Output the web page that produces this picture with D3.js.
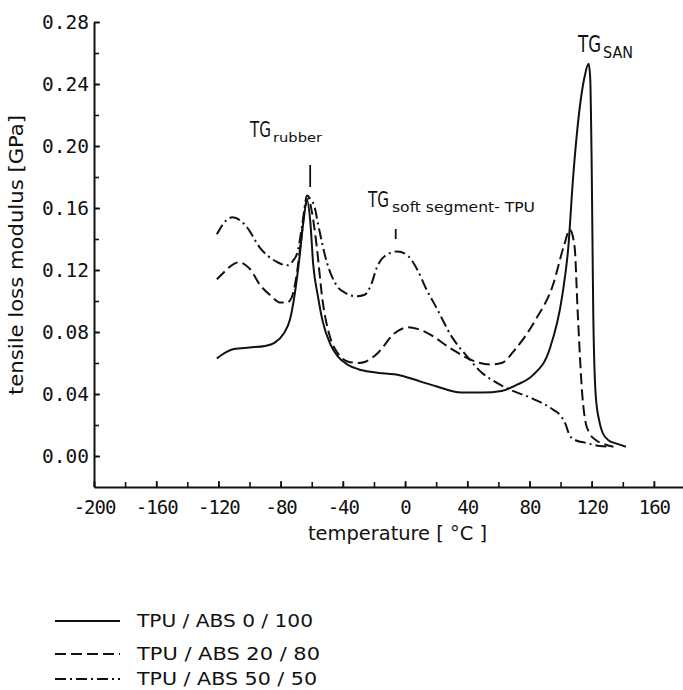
<!DOCTYPE html>
<html><head><meta charset="utf-8">
<script src="https://cdn.jsdelivr.net/npm/d3@7"></script>
<style>body{margin:0;background:#fff}svg{display:block}</style>
</head><body><svg id="chart" width="683" height="690"></svg>
<script>
// ---- data (temperature °C, tensile loss modulus GPa) ----
const seriesLabels = ["TPU / ABS 0 / 100", "TPU / ABS 20 / 80", "TPU / ABS 50 / 50"];

const tpuAbs0_100 = [
  [-121,0.063],[-115,0.067],[-110,0.069],[-100,0.070],[-90,0.071],[-84,0.073],[-78,0.079],
  [-74,0.088],[-71,0.104],[-68,0.127],[-65.5,0.150],[-63,0.165],[-61,0.152],[-59,0.123],
  [-56,0.103],[-53,0.087],[-48,0.072],[-43,0.064],[-37,0.059],[-30,0.056],[-20,0.054],
  [-3,0.052],[10,0.048],[20,0.045],[36,0.041],[50,0.041],[62,0.042],[72,0.046],[82,0.052],
  [93,0.069],[101,0.103],[105,0.135],[108,0.179],[113,0.230],[115.5,0.245],[118,0.253],
  [119,0.245],[120,0.187],[120.5,0.140],[121,0.093],[122.6,0.039],[125,0.022],[127,0.015],
  [131,0.010],[136,0.008],[142,0.006]
];
const tpuAbs20_80 = [
  [-121,0.114],[-115,0.120],[-110,0.124],[-107,0.125],[-100,0.121],[-93,0.110],[-87,0.104],
  [-80,0.099],[-76,0.099],[-73,0.102],[-70,0.115],[-67,0.138],[-64,0.162],[-62,0.166],
  [-60,0.158],[-57,0.137],[-53,0.100],[-48,0.076],[-43,0.066],[-37,0.061],[-30,0.060],
  [-25,0.061],[-17,0.067],[-7,0.079],[2,0.083],[8,0.082],[15,0.079],[30,0.069],[45,0.061],
  [55,0.059],[62,0.060],[71,0.069],[84,0.088],[95,0.110],[102,0.135],[106,0.146],[109,0.135],
  [111,0.093],[114,0.039],[116,0.022],[118.5,0.015],[123,0.010],[127,0.008],[134,0.006]
];
const tpuAbs50_50 = [
  [-121,0.143],[-115,0.152],[-111,0.154],[-106,0.152],[-102,0.148],[-93,0.134],[-82,0.125],
  [-76,0.123],[-72,0.126],[-69,0.132],[-66,0.150],[-63,0.168],[-61,0.166],[-58,0.160],
  [-56,0.150],[-50,0.124],[-44,0.110],[-38,0.105],[-31,0.103],[-26,0.104],[-22,0.110],
  [-18,0.122],[-13,0.129],[-5,0.132],[2,0.129],[8,0.120],[14,0.107],[20,0.096],[30,0.077],
  [41,0.063],[49,0.054],[56,0.049],[67,0.043],[82,0.037],[95,0.030],[100,0.026],[103,0.021],
  [106,0.013],[110,0.010],[114,0.009],[125,0.0065],[132,0.006]
];

const xTickLabels = [-200,-160,-120,-80,-40,0,40,80,120,160];
const xMinorTicks = d3.range(-200, 181, 20);
const yTickLabels = [0.00,0.04,0.08,0.12,0.16,0.20,0.24,0.28];
const yMinorTicks = d3.range(0, 0.2801, 0.02);

const annotationMain = ["TG", "TG", "TG"];
const annotationSub = ["rubber", "soft segment- TPU", "SAN"];

// ---- drawing ----
const svg = d3.select("#chart");
const x = d3.scaleLinear().domain([-200, 180]).range([94, 685]);
const y = d3.scaleLinear().domain([-0.02, 0.28]).range([487, 22]);

const INK = "#111";
const monoFont = "'DejaVu Sans Mono', monospace";
const sansFont = "'DejaVu Sans Condensed', 'DejaVu Sans', sans-serif";

// minor ticks + axis lines
svg.append("g").attr("transform", `translate(0,${y(-0.02)})`)
  .call(d3.axisBottom(x).tickValues(xMinorTicks).tickSizeInner(-5).tickSizeOuter(0).tickFormat(""))
  .call(g => g.selectAll("line").attr("stroke", INK).attr("stroke-width", 1.6))
  .call(g => g.select(".domain").attr("stroke", INK).attr("stroke-width", 2));
svg.append("g").attr("transform", `translate(${x(-200)},0)`)
  .call(d3.axisLeft(y).tickValues(yMinorTicks).tickSizeInner(-5).tickSizeOuter(0).tickFormat(""))
  .call(g => g.selectAll("line").attr("stroke", INK).attr("stroke-width", 1.6))
  .call(g => g.select(".domain").attr("stroke", INK).attr("stroke-width", 2));

// labelled ticks
svg.append("g").attr("transform", `translate(0,${y(-0.02)})`)
  .call(d3.axisBottom(x).tickValues(xTickLabels).tickSizeInner(-6).tickSizeOuter(0)
        .tickPadding(14).tickFormat(d => String(d)))
  .call(g => g.select(".domain").remove())
  .call(g => g.selectAll("line").attr("stroke", INK).attr("stroke-width", 1.6))
  .call(g => g.selectAll("text").attr("fill", INK).style("font-family", monoFont)
        .style("font-size", "19px").style("letter-spacing", "-1px"));
svg.append("g").attr("transform", `translate(${x(-200)},0)`)
  .call(d3.axisLeft(y).tickValues(yTickLabels).tickSizeInner(-6).tickSizeOuter(0)
        .tickPadding(5).tickFormat(d3.format(".2f")))
  .call(g => g.select(".domain").remove())
  .call(g => g.selectAll("line").attr("stroke", INK).attr("stroke-width", 1.6))
  .call(g => g.selectAll("text").attr("fill", INK).style("font-family", monoFont)
        .style("font-size", "19.5px"));

// axis titles
svg.append("text").attr("x", 308).attr("y", 540).attr("fill", INK)
  .style("font-family", sansFont).style("font-size", "19px")
  .attr("textLength", 179).attr("lengthAdjust", "spacingAndGlyphs")
  .text("temperature [ °C ]");
svg.append("text").attr("transform", "translate(23,395) rotate(-90)").attr("fill", INK)
  .style("font-family", sansFont).style("font-size", "19px")
  .attr("textLength", 280).attr("lengthAdjust", "spacingAndGlyphs")
  .text("tensile loss modulus [GPa]");

// curves
const series = [
  {data: tpuAbs0_100, dash: null},
  {data: tpuAbs20_80, dash: "11,5"},
  {data: tpuAbs50_50, dash: "11,4,2,4"}
];
const line = d3.line().x(d => x(d[0])).y(d => y(d[1])).curve(d3.curveMonotoneX);
svg.append("g").selectAll("path").data(series).join("path")
  .attr("d", d => line(d.data)).attr("fill", "none").attr("stroke", INK)
  .attr("stroke-width", 2).attr("stroke-dasharray", d => d.dash);

// annotations: main "TG" and subscript as separate texts
function tgLabel(i, mx, my, mainSize, mainLen, sx, sy, subSize, subLen) {
  svg.append("text").attr("x", mx).attr("y", my).attr("fill", INK)
    .style("font-family", sansFont).style("font-size", mainSize + "px")
    .attr("textLength", mainLen).attr("lengthAdjust", "spacingAndGlyphs").text(annotationMain[i]);
  svg.append("text").attr("x", sx).attr("y", sy).attr("fill", INK)
    .style("font-family", sansFont).style("font-size", subSize + "px")
    .attr("textLength", subLen).attr("lengthAdjust", "spacingAndGlyphs").text(annotationSub[i]);
}
tgLabel(0, 250, 137, 22, 21, 273, 142, 13, 49);
tgLabel(1, 368, 207, 22, 21, 392, 212, 13.5, 143);
tgLabel(2, 578, 52, 23, 23, 603, 58, 15, 30);

// marker strokes
svg.append("line").attr("x1", x(-61)).attr("x2", x(-61)).attr("y1", 165).attr("y2", 187)
  .attr("stroke", INK).attr("stroke-width", 1.8);
svg.append("line").attr("x1", x(-6)).attr("x2", x(-6)).attr("y1", 229).attr("y2", 239)
  .attr("stroke", INK).attr("stroke-width", 1.8);

// legend
const legendRows = [621, 654, 679];
const legendLens = [176, 183, 180];
const lg = svg.append("g");
series.forEach((s, i) => {
  lg.append("line").attr("x1", 55).attr("x2", 120).attr("y1", legendRows[i]).attr("y2", legendRows[i])
    .attr("stroke", INK).attr("stroke-width", 1.8).attr("stroke-dasharray", s.dash);
  lg.append("text").attr("x", 137).attr("y", legendRows[i] + 6).attr("fill", INK)
    .style("font-family", sansFont).style("font-size", "18px")
    .attr("textLength", legendLens[i]).attr("lengthAdjust", "spacingAndGlyphs")
    .text(seriesLabels[i]);
});
</script>
</body></html>
